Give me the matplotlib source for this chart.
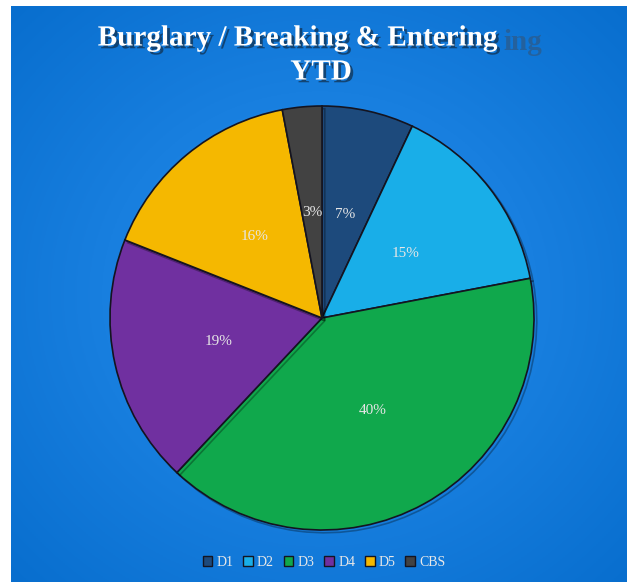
import numpy as np
import matplotlib
matplotlib.use("Agg")
import matplotlib.pyplot as plt
import matplotlib.patheffects as pe
from matplotlib.patches import Patch

categories = ["D1", "D2", "D3", "D4", "D5", "CBS"]
values = [7, 15, 40, 19, 16, 3]
colors = ["#1d4a7c", "#19aee8", "#10a84c", "#7030a0", "#f5b800", "#424242"]
title_line1 = "Burglary / Breaking & Entering"
title_line2 = "YTD"

W, H = 627, 582
fig = plt.figure(figsize=(W / 100, H / 100), dpi=100)
fig.patch.set_facecolor("white")

# background with radial gradient
bg = fig.add_axes([11 / W, 0, (W - 11) / W, (H - 6) / H])
ny, nx = 300, 320
yy, xx = np.mgrid[0:ny, 0:nx]
cx, cy = nx * 0.5, ny * 0.5
r = np.sqrt(((xx - cx) / nx) ** 2 + ((yy - cy) / ny) ** 2) / 0.7071
r = np.clip(r, 0, 1)
c_in = np.array([0x28, 0x90, 0xf0]) / 255
c_out = np.array([0x08, 0x6e, 0xce]) / 255
img = c_in[None, None, :] * (1 - r[..., None]) + c_out[None, None, :] * r[..., None]
bg.imshow(img, aspect="auto", extent=[0, 1, 0, 1])
bg.set_axis_off()

# pie
pr = 212
cxp, cyp = 322, 318
ax = fig.add_axes([(cxp - pr) / W, (H - cyp - pr) / H, 2 * pr / W, 2 * pr / H])
wedges, texts, autotexts = ax.pie(
    values, colors=colors, startangle=90, counterclock=False,
    autopct=lambda p: f"{p:.0f}%", pctdistance=0.5,
    wedgeprops=dict(edgecolor="#141420", linewidth=1.2),
    textprops=dict(color="#e6e6e6", fontsize=11, family="Liberation Serif"),
)
for w in wedges:
    w.set_path_effects([pe.SimpleLineShadow(offset=(2, -2), shadow_color="black", alpha=0.3), pe.Normal()])
ax.set_xlim(-1, 1)
ax.set_ylim(-1, 1)
ax.set_aspect("equal")
ax.set_axis_off()

# title
shadow = [pe.withSimplePatchShadow(offset=(2, -2), shadow_rgbFace="#102030", alpha=0.6)]
fig.text(297 / W, 1 - 38 / H, title_line1, ha="center", va="center", fontsize=21,
         fontweight="bold", family="Liberation Serif", color="white", path_effects=shadow)
fig.text(321 / W, 1 - 72 / H, title_line2, ha="center", va="center", fontsize=21,
         fontweight="bold", family="Liberation Serif", color="white", path_effects=shadow)
# faint ghost of the title's tail, as in the reference
fig.text(503 / W, 1 - 42 / H, title_line1[-3:], ha="left", va="center", fontsize=21,
         fontweight="bold", family="Liberation Serif", color="#3a4e66", alpha=0.5)

# legend
handles = [Patch(facecolor=c, edgecolor="#141420", label=l) for c, l in zip(colors, categories)]
leg = fig.legend(handles=handles, loc="center", bbox_to_anchor=(324 / W, 1 - 562 / H),
                 ncol=6, frameon=False, handlelength=0.7, handleheight=0.7,
                 handletextpad=0.3, columnspacing=0.7,
                 prop=dict(family="Liberation Serif", size=10))
for t in leg.get_texts():
    t.set_color("#e8e8e8")

fig.savefig("out.png", dpi=100)
